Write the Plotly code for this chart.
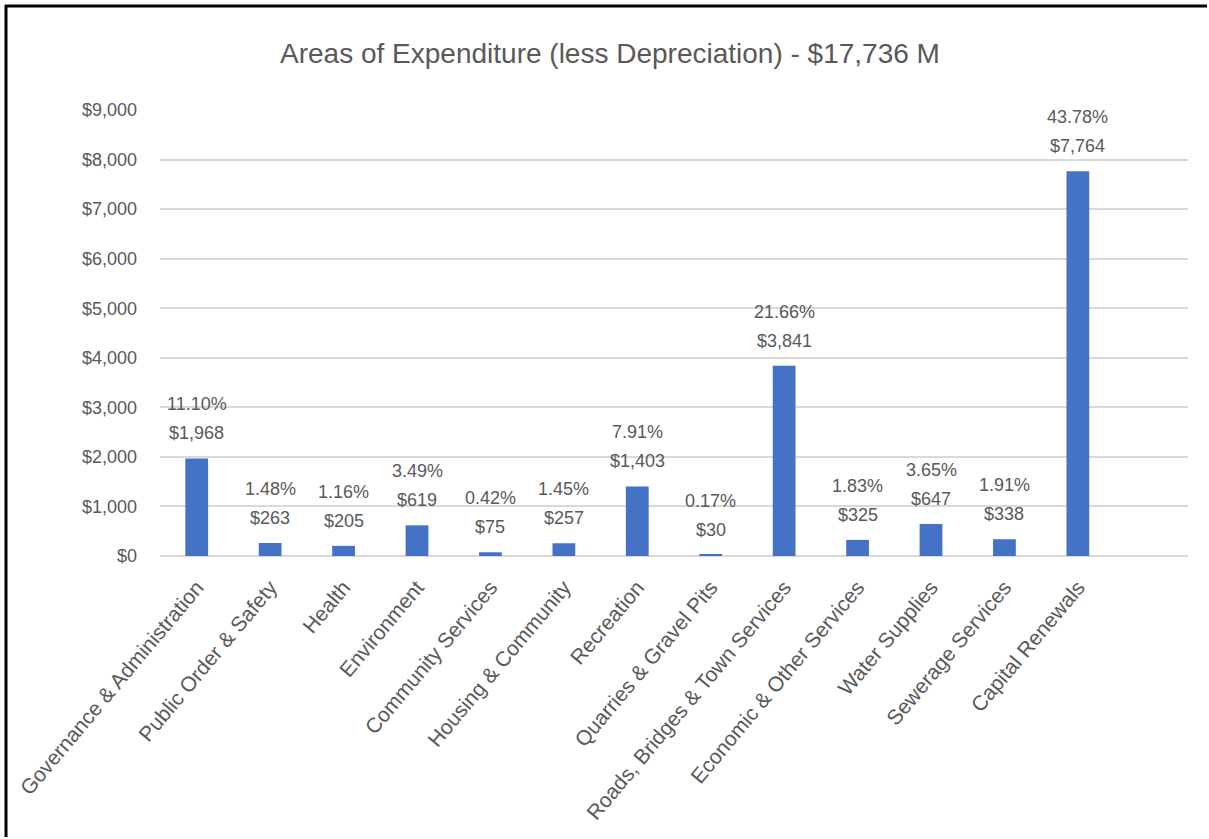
import plotly.graph_objects as go

categories = [
    "Governance & Administration", "Public Order & Safety", "Health", "Environment",
    "Community Services", "Housing & Community", "Recreation", "Quarries & Gravel Pits",
    "Roads, Bridges & Town Services", "Economic & Other Services", "Water Supplies",
    "Sewerage Services", "Capital Renewals",
]
amounts = [1968, 263, 205, 619, 75, 257, 1403, 30, 3841, 325, 647, 338, 7764]
percents = ["11.10%", "1.48%", "1.16%", "3.49%", "0.42%", "1.45%", "7.91%", "0.17%",
            "21.66%", "1.83%", "3.65%", "1.91%", "43.78%"]
y_ticks = [0, 1000, 2000, 3000, 4000, 5000, 6000, 7000, 8000, 9000]

BAR_BLUE = "#4472C4"
TEXT_GRAY = "#595959"
GRID = "#d9d9d9"
FONT = "Liberation Sans, Arial, sans-serif"

# a couple of px short of the window so nothing spills over its edges
W, H = 1207, 837
L, T = 160, 110
R = W - 1188
B = H - 556

fig = go.Figure(go.Bar(
    x=categories, y=amounts, width=0.31,
    marker_color=BAR_BLUE, marker_line_width=0,
))

# two-line data labels: amount just above the bar, share above that
for cat, amt, pct in zip(categories, amounts, percents):
    for txt, shift in ((f"${amt:,}", 25), (pct, 54)):
        fig.add_annotation(x=cat, y=amt, text=txt, showarrow=False,
                           yanchor="middle", yshift=shift,
                           font=dict(family=FONT, size=18, color=TEXT_GRAY))


def px_x(x):
    return (x - L) / (W - L - R)


def px_y(y):
    return (H - B - y) / (H - T - B)


# frame around the chart (top and left edges visible); kept inside the figure
fig.add_shape(type="line", xref="paper", yref="paper",
              x0=px_x(5), x1=px_x(W), y0=px_y(6), y1=px_y(6),
              line=dict(color="black", width=3))
fig.add_shape(type="line", xref="paper", yref="paper",
              x0=px_x(6), x1=px_x(6), y0=px_y(5), y1=px_y(H),
              line=dict(color="black", width=3))

fig.update_layout(
    width=W, height=H,
    margin=dict(l=L, r=R, t=T, b=B),
    paper_bgcolor="white", plot_bgcolor="white",
    showlegend=False,
    font=dict(family=FONT, color=TEXT_GRAY),
    title=dict(text="Areas of Expenditure (less Depreciation) - $17,736 M",
               x=(610 / W), xref="container", xanchor="center",
               y=1 - 53 / H, yanchor="middle",
               font=dict(family=FONT, size=28, color=TEXT_GRAY)),
    xaxis=dict(range=[-0.5, 13.5], tickangle=-50, showgrid=False, showline=False,
               ticks="", ticklabelstandoff=14,
               tickfont=dict(family=FONT, size=21, color=TEXT_GRAY)),
    yaxis=dict(range=[0, 9000], tickvals=y_ticks, ticktext=[f"${v:,}" for v in y_ticks],
               showgrid=True, gridcolor=GRID, gridwidth=1.5, zeroline=True,
               zerolinecolor=GRID, zerolinewidth=2, showline=False, ticks="",
               ticklabelstandoff=22,
               tickfont=dict(family=FONT, size=18, color=TEXT_GRAY)),
)

# drop the default body margin so the figure starts at the window's corner
fig.write_html("out.html", config={"displayModeBar": False},
               post_script="document.body.style.margin='0';")
